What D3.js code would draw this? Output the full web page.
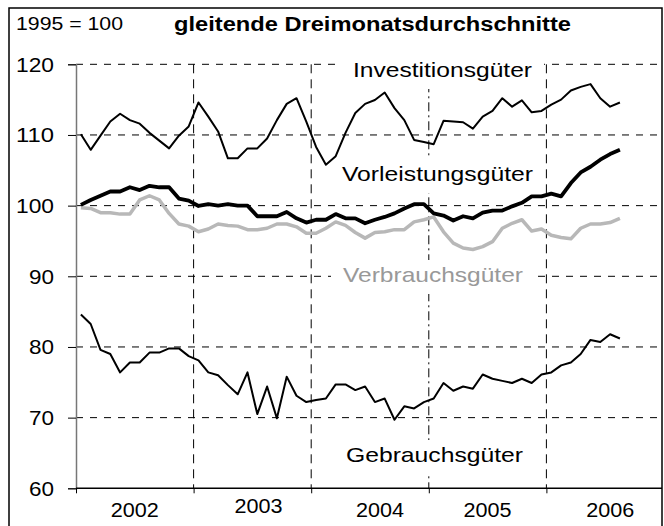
<!DOCTYPE html>
<html>
<head>
<meta charset="utf-8">
<script src="https://cdn.jsdelivr.net/npm/d3@7"></script>
<style>
  body { margin: 0; background: #fff; }
  text { font-family: "Liberation Sans", Arial, sans-serif; }
</style>
</head>
<body>
<div id="chart"></div>
<script>
// monthly values, Jan 2002 .. Aug 2006 (1995 = 100)
var years = ["2002", "2003", "2004", "2005", "2006"];
var yTicks = [60, 70, 80, 90, 100, 110, 120];

var investition = [110.1, 107.9, 109.9, 111.9, 113.0, 112.1, 111.6, 110.3, 109.2, 108.1, 109.9, 111.2,
  114.6, 112.6, 110.5, 106.7, 106.7, 108.1, 108.1, 109.5, 112.1, 114.4, 115.2, 111.9,
  108.3, 105.8, 107.0, 110.3, 113.1, 114.4, 114.95, 116.0, 113.8, 112.1, 109.3, 109.0,
  108.7, 112.0, 111.9, 111.8, 110.9, 112.6, 113.4, 115.2, 114.0, 114.9, 113.2, 113.4,
  114.3, 115.0, 116.3, 116.8, 117.2, 115.2, 114.0, 114.6];

var vorleistung = [100.1, 100.8, 101.4, 102.0, 102.0, 102.6, 102.2, 102.8, 102.6, 102.6, 101.0, 100.7,
  99.95, 100.2, 100.0, 100.2, 100.0, 100.0, 98.5, 98.5, 98.5, 99.1, 98.2, 97.6,
  98.0, 98.0, 98.8, 98.2, 98.2, 97.5, 98.0, 98.4, 98.9, 99.6, 100.2, 100.2,
  98.9, 98.6, 97.9, 98.5, 98.2, 99.0, 99.3, 99.3, 99.9, 100.4, 101.3, 101.3,
  101.7, 101.3, 103.2, 104.7, 105.5, 106.5, 107.3, 107.9];

var verbrauch = [99.7, 99.6, 99.0, 99.0, 98.8, 98.8, 100.8, 101.4, 100.8, 98.9, 97.4, 97.1,
  96.3, 96.7, 97.4, 97.2, 97.1, 96.6, 96.6, 96.8, 97.4, 97.4, 97.0, 96.1,
  96.1, 96.8, 97.7, 97.2, 96.2, 95.4, 96.2, 96.3, 96.6, 96.6, 97.7, 98.0,
  98.4, 96.3, 94.7, 94.0, 93.8, 94.2, 94.9, 96.8, 97.5, 98.0, 96.4, 96.7,
  95.8, 95.5, 95.3, 96.8, 97.4, 97.4, 97.6, 98.2];

var gebrauch = [84.6, 83.25, 79.6, 79.0, 76.4, 77.8, 77.8, 79.2, 79.2, 79.8, 79.8, 78.7,
  78.1, 76.4, 76.0, 74.6, 73.3, 76.4, 70.5, 74.4, 69.9, 75.8, 73.1, 72.2,
  72.5, 72.7, 74.7, 74.7, 73.9, 74.4, 72.2, 72.7, 69.7, 71.6, 71.3, 72.2,
  72.7, 74.9, 73.8, 74.4, 74.1, 76.1, 75.5, 75.2, 74.9, 75.5, 74.9, 76.1,
  76.4, 77.4, 77.8, 79.0, 81.0, 80.7, 81.8, 81.2];

var width = 664, height = 526;

var svg = d3.select("#chart")
  .append("svg")
    .attr("width", width)
    .attr("height", height);

// scales: one unit per month, points in the middle of each month
var x = d3.scaleLinear().domain([0, 60]).range([76, 664]);
var y = d3.scaleLinear().domain([60, 120]).range([488.3, 64.3]);

// outer frame
svg.append("rect")
  .attr("x", 9).attr("y", 8)
  .attr("width", 653).attr("height", 522)
  .attr("fill", "none").attr("stroke", "#000").attr("stroke-width", 1.5);

// horizontal grid
svg.selectAll(".hgrid")
  .data(yTicks.filter(function(d) { return d > 60; }))
  .enter().append("line")
    .attr("x1", x(0)).attr("x2", 662)
    .attr("y1", function(d) { return y(d); })
    .attr("y2", function(d) { return y(d); })
    .attr("stroke", "#000").attr("stroke-width", 1)
    .attr("stroke-dasharray", "7,7");

// vertical grid at year boundaries
svg.selectAll(".vgrid")
  .data([12, 24, 36, 48])
  .enter().append("line")
    .attr("x1", function(d) { return x(d); })
    .attr("x2", function(d) { return x(d); })
    .attr("y1", y(120)).attr("y2", y(60))
    .attr("stroke", "#000").attr("stroke-width", 1)
    .attr("stroke-dasharray", function(d) { return d == 36 ? "9,4,2,4" : "9,6"; });

// series labels sit on white boxes that hide the grid behind them
var labels = [
  {text: "Investitionsgüter", x: 353, y: 77, len: 179, color: "#000"},
  {text: "Vorleistungsgüter", x: 342, y: 181, len: 191, color: "#000"},
  {text: "Verbrauchsgüter", x: 343, y: 282, len: 180, color: "#999"},
  {text: "Gebrauchsgüter", x: 346, y: 462, len: 177, color: "#000"}
];
svg.selectAll(".labbox")
  .data(labels)
  .enter().append("rect")
    .attr("x", function(d) { return d.x - 12; })
    .attr("y", function(d) { return d.y - 22; })
    .attr("width", function(d) { return d.len + 24; })
    .attr("height", 34)
    .attr("fill", "#fff");

// y axis
var yAxis = svg.append("g")
  .attr("transform", "translate(" + x(0) + ",0)")
  .call(d3.axisLeft(y).tickValues(yTicks).tickSize(8).tickPadding(14));
yAxis.select(".domain").attr("stroke", "#777").attr("stroke-width", 1.5);
yAxis.selectAll(".tick line").attr("stroke", "#000");
yAxis.selectAll(".tick text")
  .attr("dy", "0.33em")
  .style("font-size", "21px")
  .style("font-family", "'Liberation Sans', Arial, sans-serif")
  .attr("fill", "#000")
  .attr("textLength", function(d) { return d >= 100 ? 38 : 25; })
  .attr("lengthAdjust", "spacingAndGlyphs");

// x axis (ticks at year boundaries, labels added below)
var xAxis = svg.append("g")
  .attr("transform", "translate(0," + y(60) + ")")
  .call(d3.axisBottom(x).tickValues([0, 12, 24, 36, 48]).tickSize(5).tickFormat(""));
xAxis.select(".domain").attr("d", "M" + x(0) + ",0H662").attr("stroke", "#000").attr("stroke-width", 1.5);

// year labels (Excel placed them slightly unevenly)
var yearNudge = [[0, 0], [6, -4], [10, 0], [0, 0], [5, 0]];
svg.selectAll(".year")
  .data(years)
  .enter().append("text")
    .attr("x", function(d, i) { return x(i * 12 + 6) + yearNudge[i][0]; })
    .attr("y", function(d, i) { return 517 + yearNudge[i][1]; })
    .attr("text-anchor", "middle")
    .attr("textLength", 48)
    .attr("lengthAdjust", "spacingAndGlyphs")
    .style("font-size", "20px")
    .text(function(d) { return d; });

// lines
var line = d3.line()
  .x(function(d, i) { return x(i + 0.5); })
  .y(function(d) { return y(d); });

var series = [
  {values: verbrauch, color: "#b8b8b8", w: 3.5},
  {values: gebrauch, color: "#000", w: 2},
  {values: investition, color: "#000", w: 2},
  {values: vorleistung, color: "#000", w: 3.8}
];

svg.selectAll(".series")
  .data(series)
  .enter().append("path")
    .attr("d", function(d) { return line(d.values); })
    .attr("fill", "none")
    .attr("stroke", function(d) { return d.color; })
    .attr("stroke-width", function(d) { return d.w; })
    .attr("stroke-linejoin", "round");

svg.selectAll(".lab")
  .data(labels)
  .enter().append("text")
    .attr("x", function(d) { return d.x; })
    .attr("y", function(d) { return d.y; })
    .attr("textLength", function(d) { return d.len; })
    .attr("lengthAdjust", "spacingAndGlyphs")
    .attr("fill", function(d) { return d.color; })
    .style("font-size", "21px")
    .text(function(d) { return d.text; });

// header
svg.append("text")
  .attr("x", 16).attr("y", 30)
  .attr("textLength", 107).attr("lengthAdjust", "spacingAndGlyphs")
  .style("font-size", "18px")
  .text("1995 = 100");

svg.append("text")
  .attr("x", 174).attr("y", 31)
  .attr("textLength", 397).attr("lengthAdjust", "spacingAndGlyphs")
  .style("font-size", "20px").style("font-weight", "bold")
  .text("gleitende Dreimonatsdurchschnitte");
</script>
</body>
</html>
